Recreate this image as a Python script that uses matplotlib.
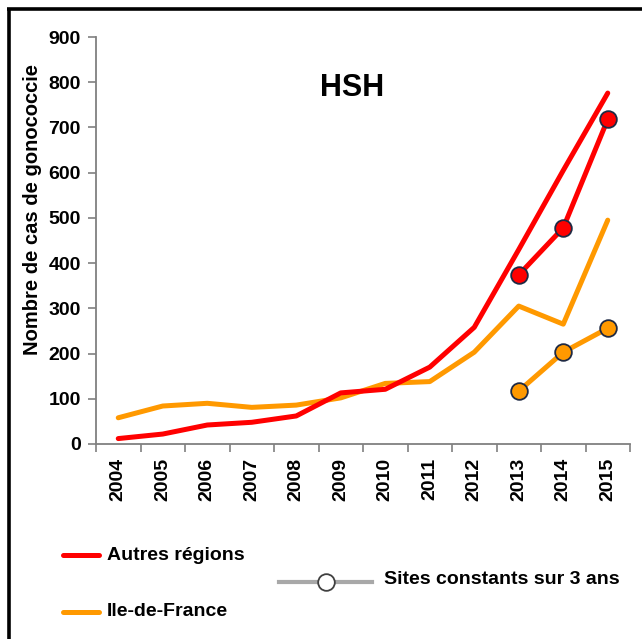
import matplotlib.pyplot as plt
from matplotlib.lines import Line2D

annees = ['2004', '2005', '2006', '2007', '2008', '2009',
          '2010', '2011', '2012', '2013', '2014', '2015']
autres_regions = [12, 22, 42, 48, 62, 113, 121, 170, 258, 430, 605, 776]
ile_de_france = [58, 84, 90, 81, 86, 102, 134, 138, 203, 305, 265, 495]
# sites constants sur 3 ans (2013-2015)
annees_const = ['2013', '2014', '2015']
autres_const = [374, 478, 718]
idf_const = [117, 203, 256]

rouge = '#FF0000'
orange = '#FF9900'
bord = '#1F2A44'

plt.rcParams['font.family'] = ['Liberation Sans', 'DejaVu Sans']
plt.rcParams['font.weight'] = 'bold'

fig = plt.figure(figsize=(6.42, 6.39), dpi=100)
ax = fig.add_axes([96 / 642, 1 - 444 / 639, (630 - 96) / 642, (444 - 37) / 639])

x = list(range(len(annees)))
xc = [annees.index(a) for a in annees_const]

ax.plot(x, autres_regions, color=rouge, lw=3.6, solid_capstyle='round', zorder=3)
ax.plot(x, ile_de_france, color=orange, lw=3.6, solid_capstyle='round', zorder=2)
ax.plot(xc, autres_const, color=rouge, lw=3.6, marker='o', ms=12,
        mfc=rouge, mec=bord, mew=1.3, zorder=4)
ax.plot(xc, idf_const, color=orange, lw=3.6, marker='o', ms=12,
        mfc=orange, mec=bord, mew=1.3, zorder=4)

ax.set_xlim(-0.5, len(annees) - 0.5)
ax.set_ylim(0, 900)
ax.set_yticks(range(0, 901, 100))
ax.set_xticks(x)
ax.set_xticklabels(annees, rotation=90, fontsize=14, fontweight='bold')
ax.set_xticks([i - 0.5 for i in range(len(annees) + 1)], minor=True)
ax.tick_params(axis='x', which='major', length=0, pad=10)
ax.tick_params(axis='x', which='minor', length=6, width=1.2, color='#808080', direction='out')
ax.tick_params(axis='y', length=6, width=1.2, color='#808080', labelsize=14, pad=5)
for lab in ax.get_yticklabels():
    lab.set_fontweight('bold')

for s in ['top', 'right']:
    ax.spines[s].set_visible(False)
for s in ['left', 'bottom']:
    ax.spines[s].set_color('#808080')
    ax.spines[s].set_linewidth(1.3)

ax.set_ylabel('Nombre de cas de gonococcie', fontsize=14.5, fontweight='bold')
ax.yaxis.set_label_coords(-0.101, 0.577)
ax.text(0.48, 0.875, 'HSH', transform=ax.transAxes, fontsize=22,
        fontweight='bold', ha='center', va='center')

# cadre gauche et haut
fig.add_artist(Line2D([8.5 / 642, 8.5 / 642], [0, 1 - 8.5 / 639], color='black', lw=2.6,
                      solid_capstyle='butt'))
fig.add_artist(Line2D([7 / 642, 1], [1 - 8.5 / 639, 1 - 8.5 / 639], color='black', lw=2.6,
                      solid_capstyle='butt'))

# légende
def fx(px):
    return px / 642


def fy(py):
    return 1 - py / 639


fig.add_artist(Line2D([fx(63), fx(99)], [fy(555), fy(555)], color=rouge, lw=3.6,
                      solid_capstyle='round'))
fig.text(fx(107), fy(555), 'Autres régions', fontsize=14, fontweight='bold', va='center')
fig.add_artist(Line2D([fx(63), fx(99)], [fy(612), fy(612)], color=orange, lw=3.6,
                      solid_capstyle='round'))
fig.text(fx(107), fy(612), 'Ile-de-France', fontsize=14, fontweight='bold', va='center')
fig.add_artist(Line2D([fx(279), fx(372)], [fy(582), fy(582)], color='#A8A8A8', lw=3))
fig.add_artist(Line2D([fx(326)], [fy(582)], marker='o', ms=12, mfc='white',
                      mec='#404040', mew=1.3))
fig.text(fx(384), fy(580), 'Sites constants sur 3 ans', fontsize=14, fontweight='bold',
         va='center')

fig.savefig('out.png', dpi=100)
